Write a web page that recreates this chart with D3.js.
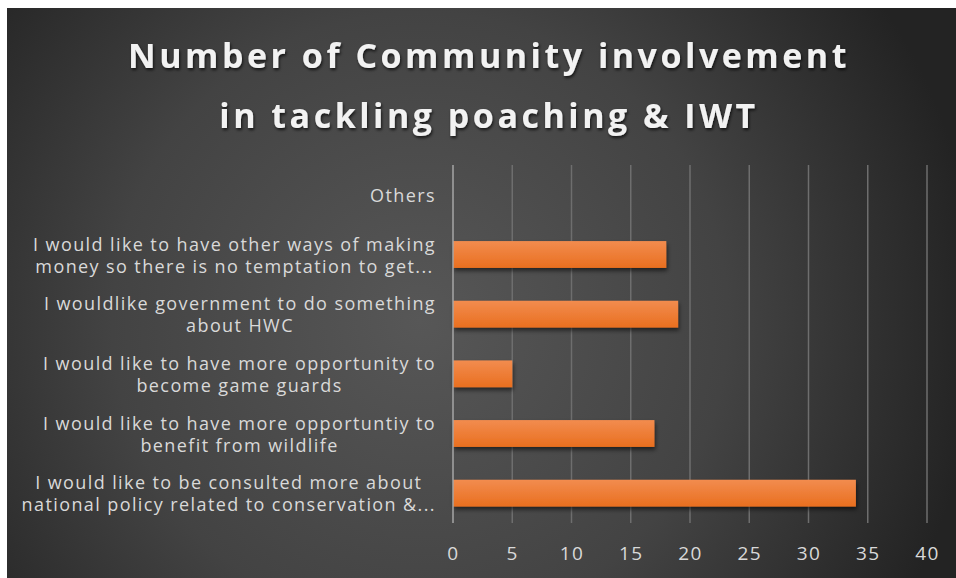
<!DOCTYPE html>
<html>
<head>
<meta charset="utf-8">
<script src="https://cdn.jsdelivr.net/npm/d3@7"></script>
<style>
html,body{margin:0;padding:0;background:#ffffff;overflow:hidden;}
svg{display:block;}
</style>
</head>
<body>
<svg id="chart" width="956" height="578"></svg>
<script>
const titleLines = ["Number of Community involvement", "in tackling poaching & IWT"];
const categories = [
  "Others",
  "I would like to have other ways of making\nmoney so there is no temptation to get...",
  "I wouldlike government to do something\nabout HWC",
  "I would like to have more opportunity to\nbecome game guards",
  "I would like to have more opportuntiy to\nbenefit from wildlife",
  "I would like to be consulted more about\nnational policy related to conservation &..."
];
const values = [0, 18, 19, 5, 17, 34];
const xTicks = [0, 5, 10, 15, 20, 25, 30, 35, 40];

const W = 956, H = 578;
const svg = d3.select("#chart");
const defs = svg.append("defs");

const bg = defs.append("radialGradient").attr("id","bg")
  .attr("gradientUnits","userSpaceOnUse")
  .attr("cx",420).attr("cy",320).attr("r",560);
bg.append("stop").attr("offset","0%").attr("stop-color","#575757");
bg.append("stop").attr("offset","55%").attr("stop-color","#434343");
bg.append("stop").attr("offset","100%").attr("stop-color","#232323");

const barGrad = defs.append("linearGradient").attr("id","barGrad")
  .attr("x1",0).attr("y1",0).attr("x2",0).attr("y2",1);
barGrad.append("stop").attr("offset","0%").attr("stop-color","#f28c4f");
barGrad.append("stop").attr("offset","100%").attr("stop-color","#e96f1f");

const sh = defs.append("filter").attr("id","shadow")
  .attr("x","-10%").attr("y","-30%").attr("width","130%").attr("height","180%");
sh.append("feDropShadow").attr("dx",1).attr("dy",3).attr("stdDeviation",2)
  .attr("flood-color","#000").attr("flood-opacity",0.55);

const tsh = defs.append("filter").attr("id","tshadow")
  .attr("x","-5%").attr("y","-30%").attr("width","110%").attr("height","170%");
tsh.append("feDropShadow").attr("dx",1).attr("dy",2).attr("stdDeviation",1.5)
  .attr("flood-color","#000").attr("flood-opacity",0.7);

svg.append("rect").attr("x",7).attr("y",8).attr("width",W+20).attr("height",H+20)
  .attr("fill","url(#bg)");

// Title
const title = svg.append("text")
  .attr("text-anchor","middle")
  .attr("font-family","'Open Sans', sans-serif")
  .attr("font-weight","bold")
  .attr("font-size",34)
  .attr("letter-spacing",3.5)
  .attr("fill","#f2f2f2")
  .attr("filter","url(#tshadow)");
titleLines.forEach((t,i)=>{
  title.append("tspan").attr("x",489).attr("y",68 + i*60).text(t);
});

const x = d3.scaleLinear().domain([0,40]).range([453, 927]);
const y = d3.scaleBand().domain(categories).range([165, 523]).paddingInner(0.55).paddingOuter(0.275);

// Gridlines
svg.append("g").selectAll("line").data(xTicks.filter(d=>d>0)).join("line")
  .attr("x1",d=>x(d)).attr("x2",d=>x(d))
  .attr("y1",165).attr("y2",523)
  .attr("stroke","#6e6e6e").attr("stroke-width",1.5);

// Bars
svg.append("g").selectAll("rect").data(values).join("rect")
  .attr("x",x(0))
  .attr("y",(d,i)=>y(categories[i]))
  .attr("width",d=>x(d)-x(0))
  .attr("height",y.bandwidth())
  .attr("fill","url(#barGrad)")
  .attr("filter","url(#shadow)");

// Axis line (vertical at 0)
svg.append("line").attr("x1",x(0)).attr("x2",x(0)).attr("y1",165).attr("y2",523)
  .attr("stroke","#a6a6a6").attr("stroke-width",1.5);

// X axis tick labels
const xAxis = d3.axisBottom(x).tickValues(xTicks).tickSize(0).tickPadding(0);
const gx = svg.append("g").attr("transform","translate(0,560)").call(xAxis);
gx.select(".domain").remove();
gx.selectAll("text")
  .attr("dy",0)
  .attr("font-family","'Open Sans', sans-serif")
  .attr("font-size",19)
  .attr("letter-spacing",1.5)
  .attr("fill","#d9d9d9");

// Category labels
const labelRight = 436;
const lineH = 22;
const lg = svg.append("g")
  .attr("font-family","'Open Sans', sans-serif")
  .attr("font-size",18)
  .attr("letter-spacing",1.4)
  .attr("fill","#d9d9d9");
categories.forEach((c)=>{
  const lines = c.split("\n");
  const cy = y(c) + y.bandwidth()/2;
  const g = lg.append("g");
  const texts = lines.map((l,j)=> g.append("text")
    .attr("text-anchor","middle")
    .attr("y", cy + (j - (lines.length-1)/2)*lineH + 7)
    .text(l));
  const maxW = d3.max(texts, t=>t.node().getComputedTextLength());
  texts.forEach(t=>t.attr("x", labelRight - maxW/2));
});
</script>
</body>
</html>
